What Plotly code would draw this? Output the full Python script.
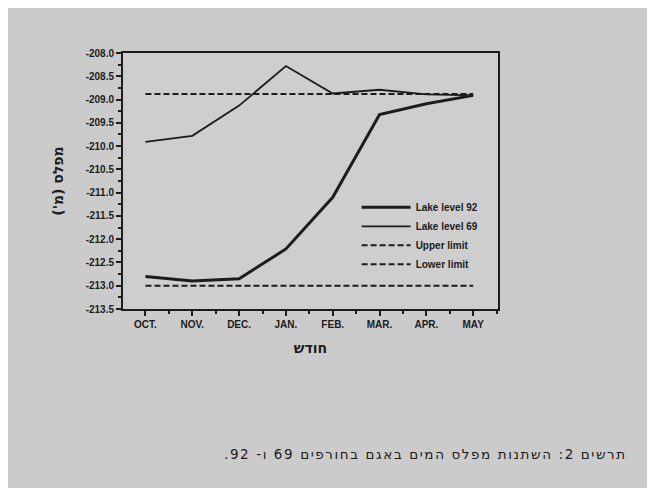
import plotly.graph_objects as go

months = ["OCT.", "NOV.", "DEC.", "JAN.", "FEB.", "MAR.", "APR.", "MAY"]
lake_92 = [-212.80, -212.90, -212.85, -212.21, -211.10, -209.32, -209.09, -208.91]
lake_69 = [-209.91, -209.78, -209.13, -208.28, -208.87, -208.79, -208.89, -208.91]
upper_limit = [-208.88] * 8
lower_limit = [-213.00] * 8
y_tick_vals = [-213.5, -213.0, -212.5, -212.0, -211.5, -211.0, -210.5, -210.0,
               -209.5, -209.0, -208.5, -208.0]
y_tick_text = ["-213.5", "-213.0", "-212.5", "-212.0", "-211.5", "-211.0", "-210.5",
               "-210.0", "-209.5", "-209.0", "-208.5", "-208.0"]

x_idx = list(range(len(months)))
INK = "#1c1c1c"
LAT = "Liberation Sans, Arial, sans-serif"
HEB = "DejaVu Sans, Liberation Sans, sans-serif"
TICKFONT = dict(family=LAT, size=10, color=INK, weight="bold")

fig = go.Figure()
fig.add_trace(go.Scatter(x=x_idx, y=lake_92, mode="lines", name="Lake level 92",
                         line=dict(color=INK, width=3)))
fig.add_trace(go.Scatter(x=x_idx, y=lake_69, mode="lines", name="Lake level 69",
                         line=dict(color=INK, width=1.8)))
fig.add_trace(go.Scatter(x=x_idx, y=upper_limit, mode="lines", name="Upper limit",
                         line=dict(color=INK, width=2, dash="6px,3px")))
fig.add_trace(go.Scatter(x=x_idx, y=lower_limit, mode="lines", name="Lower limit",
                         line=dict(color=INK, width=2, dash="6px,3px")))

PLOT_T, PLOT_B = 45, 301.5
PLOT_L, PLOT_R = 115, 490
PH = PLOT_B - PLOT_T
PW = PLOT_R - PLOT_L

fig.update_layout(
    width=655, height=488,
    margin=dict(l=PLOT_L, r=655 - PLOT_R, t=PLOT_T, b=488 - PLOT_B, pad=0),
    paper_bgcolor="#cbcbcb",
    plot_bgcolor="#cecece",
    showlegend=True,
    legend=dict(x=0.623, y=0.454, xanchor="left", yanchor="top",
                bgcolor="rgba(0,0,0,0)", borderwidth=0, itemwidth=49,
                font=dict(family=LAT, size=10, color=INK, weight="bold"),
                tracegroupgap=0),
    xaxis=dict(
        range=[-0.48, 7.53],
        tickmode="array", tickvals=x_idx, ticktext=months,
        ticks="outside", ticklen=5, tickwidth=1.5, tickcolor=INK,
        minor=dict(tickmode="linear", tick0=0.5, dtick=1, ticks="outside",
                   ticklen=3, tickwidth=1.5, tickcolor=INK),
        showgrid=False, zeroline=False,
        showline=True, linecolor=INK, linewidth=2, mirror=True,
        tickfont=TICKFONT,
        title=dict(text="חודש", font=dict(family=HEB, size=14, color=INK, weight="bold"),
                   standoff=14),
    ),
    yaxis=dict(
        range=[-213.5, -208.0],
        tickmode="array", tickvals=y_tick_vals, ticktext=y_tick_text,
        ticks="outside", ticklen=5, tickwidth=1.5, tickcolor=INK,
        minor=dict(tickmode="linear", tick0=-213.25, dtick=0.5, ticks="outside",
                   ticklen=3, tickwidth=1.5, tickcolor=INK),
        showgrid=False, zeroline=False,
        showline=True, linecolor=INK, linewidth=2, mirror=True,
        tickfont=TICKFONT,
        title=dict(text="\u202bמפלס (מ')\u202c",
                   font=dict(family=HEB, size=14, color=INK, weight="bold"),
                   standoff=19),
    ),
)

fig.add_annotation(
    text="<span style='letter-spacing:1.6px'>\u202bתרשים 2: השתנות מפלס המים באגם בחורפים 69 ו- 92.\u202c</span>",
    xref="paper", yref="paper", x=(621 - PLOT_L) / PW, y=-(447 - PLOT_B) / PH,
    xanchor="right", yanchor="middle", showarrow=False,
    font=dict(family=HEB, size=13.5, color=INK),
)

fig.write_html("out.html")
